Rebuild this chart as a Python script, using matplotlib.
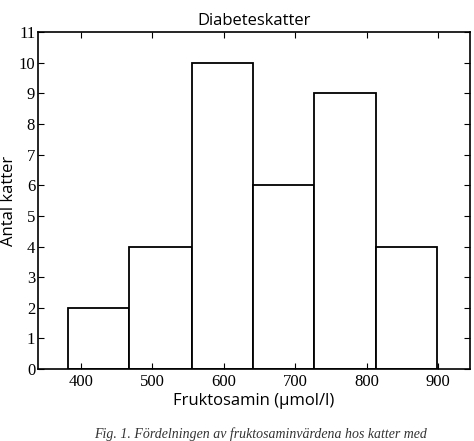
import matplotlib
matplotlib.use("Agg")
import matplotlib.pyplot as plt

# histogram bins (µmol/l) and counts
bin_edges = [382, 468, 555, 641, 727, 813, 899]
counts = [2, 4, 10, 6, 9, 4]
x_ticks = [400, 500, 600, 700, 800, 900]
y_ticks = list(range(0, 12))

fig = plt.figure(figsize=(4.74, 4.41), dpi=100)
ax = fig.add_axes([0.080, 0.163, 0.912, 0.764])

lefts = bin_edges[:-1]
widths = [b - a for a, b in zip(bin_edges[:-1], bin_edges[1:])]
ax.bar(lefts, counts, width=widths, align="edge",
       facecolor="white", edgecolor="black", linewidth=1.3)

ax.set_xlim(340, 945)
ax.set_ylim(0, 11)
ax.set_xticks(x_ticks)
ax.set_yticks(y_ticks)
ax.tick_params(direction="in", length=4, labelsize=12, top=True, right=True)
ax.tick_params(axis="y", pad=2)
for lbl in ax.get_xticklabels() + ax.get_yticklabels():
    lbl.set_family("Liberation Serif")
for s in ax.spines.values():
    s.set_linewidth(1.2)

ax.set_title("Diabeteskatter", fontsize=12, family="Open Sans", pad=5)
ax.set_xlabel("Fruktosamin (\u00b5mol/l)", fontsize=12, family="Open Sans", labelpad=2)
ax.set_ylabel("Antal katter", fontsize=12, family="Open Sans", labelpad=1)

fig.text(0.55, 0.015, "Fig. 1. Fördelningen av fruktosaminvärdena hos katter med",
         ha="center", va="center", fontsize=10, family="Liberation Serif",
         style="italic", color="#333333")

fig.savefig("out.png", dpi=100, facecolor="white")
